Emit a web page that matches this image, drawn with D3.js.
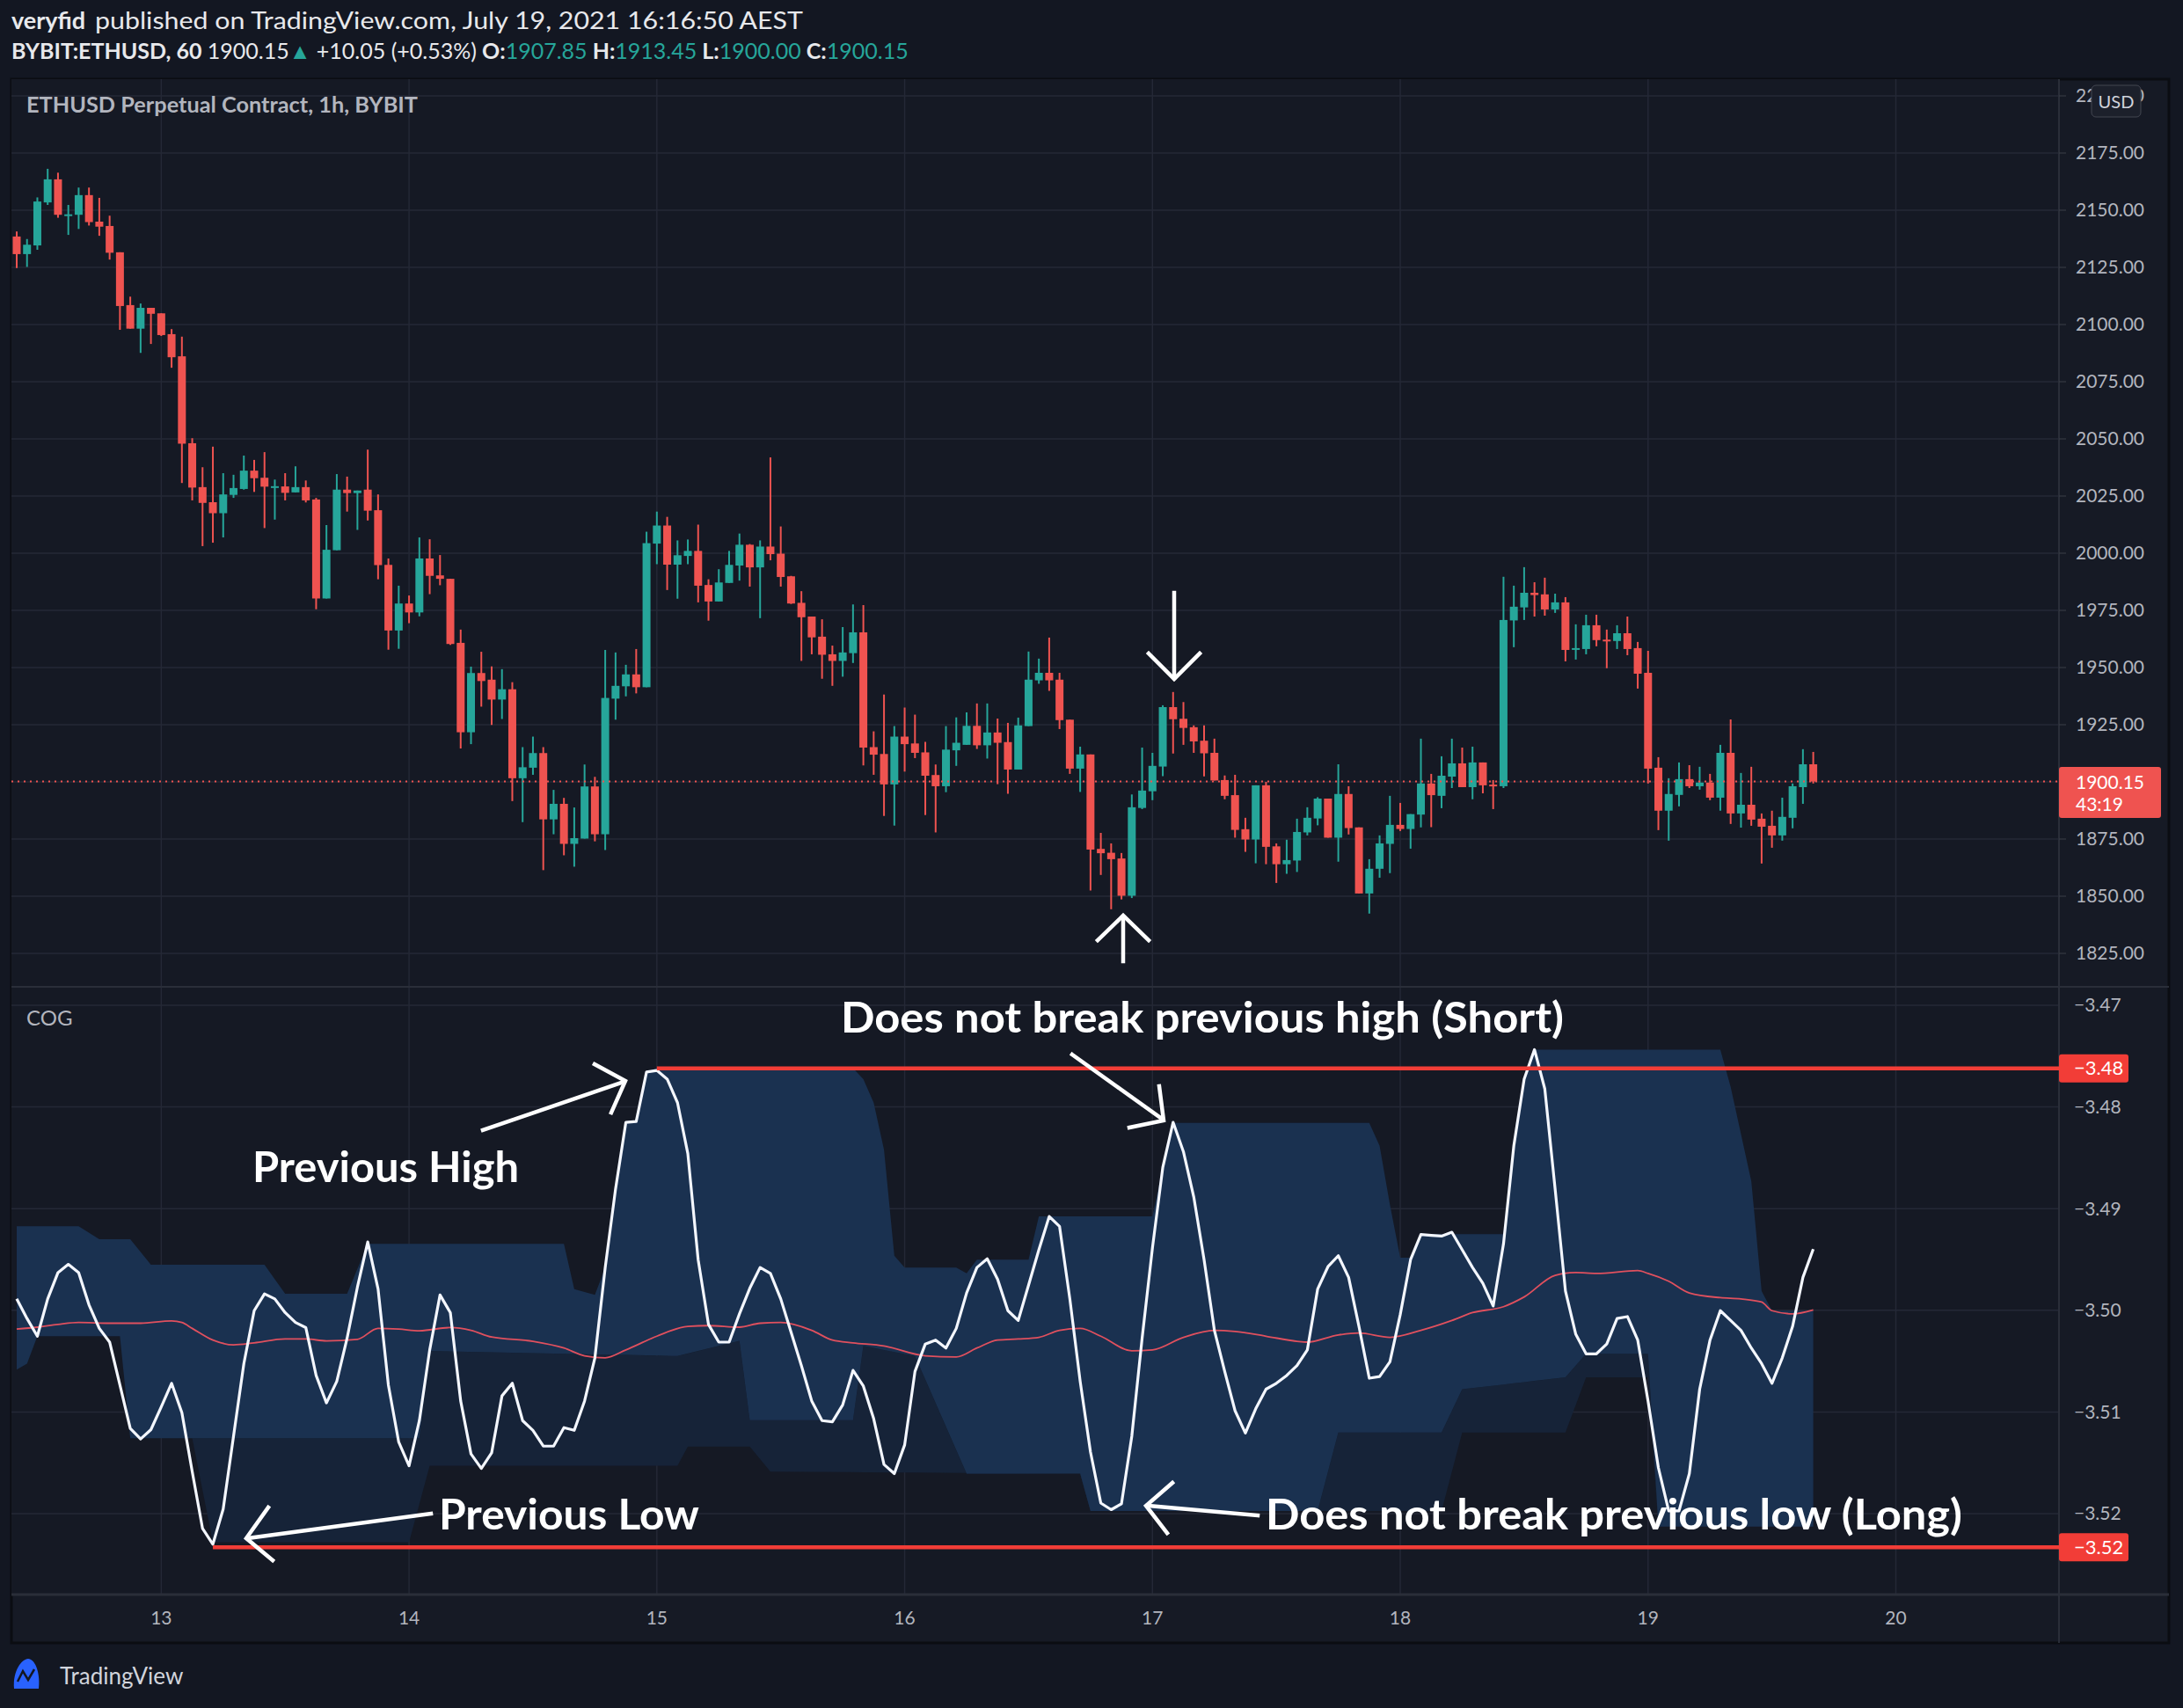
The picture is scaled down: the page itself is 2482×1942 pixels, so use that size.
<!DOCTYPE html>
<html><head><meta charset="utf-8">
<script src="https://cdn.jsdelivr.net/npm/d3@7/dist/d3.min.js"></script>
<style>html,body{margin:0;padding:0;background:#131722;}svg{display:block;}</style>
</head><body>
<script>
// ---------- DATA ----------
// hourly candles starting Jul 12 2021 10:00 (hour index 10 from Jul 12 00:00)
const firstHour = 10;
const opens  = [2138.5,2130.8,2134.6,2153.4,2163.5,2148.0,2148.0,2156.6,2145.0,2143.1,2131.6,2108.5,2098.2,2107.3,2104.9,2095.8,2086.1,2048.1,2028.9,2022.3,2017.5,2025.5,2028.1,2036.1,2033.0,2029.1,2029.2,2026.6,2028.9,2023.5,1980.2,2001.3,2027.8,2026.3,2027.8,2018.8,1994.9,1966.2,1978.0,1974.1,1997.7,1990.3,1988.8,1960.8,1921.7,1947.6,1944.7,1936.0,1940.5,1901.6,1906.2,1912.6,1883.6,1890.4,1872.9,1875.2,1898.0,1877.1,1936.4,1941.8,1947.0,1941.4,2004.2,2012.1,1995.0,1998.8,2001.0,1986.1,1978.9,1987.0,1994.6,2003.7,1993.8,2002.9,1999.8,1989.9,1978.3,1972.3,1963.5,1955.8,1952.9,1956.3,1965.4,1915.2,1912.2,1898.9,1919.8,1916.8,1912.9,1903.0,1898.1,1913.8,1916.2,1924.5,1916.0,1921.6,1917.4,1905.4,1924.4,1944.4,1947.7,1944.7,1927.2,1905.8,1912.0,1870.7,1869.0,1866.5,1850.2,1888.6,1895.9,1906.7,1932.7,1927.6,1923.9,1918.0,1912.7,1900.8,1894.2,1879.3,1874.8,1898.5,1871.8,1864.0,1865.6,1877.9,1884.0,1892.7,1875.6,1894.7,1880.1,1851.2,1862.0,1872.9,1881.2,1879.4,1885.7,1899.3,1893.9,1902.3,1908.1,1897.7,1908.5,1898.8,1898.1,1970.6,1976.3,1982.7,1982.0,1975.4,1978.5,1958.1,1958.1,1968.5,1962.2,1961.6,1965.0,1958.5,1947.7,1906.2,1887.4,1894.3,1901.2,1898.1,1899.7,1893.1,1912.7,1886.2,1890.0,1883.9,1880.8,1876.6,1884.3,1897.7,1907.7];
const highs  = [2140.7,2137.4,2155.6,2168.1,2166.4,2152.3,2159.9,2159.9,2155.4,2147.6,2131.6,2112.2,2109.2,2107.3,2104.9,2098.0,2094.7,2050.3,2037.6,2046.6,2035.0,2034.3,2042.7,2040.8,2044.2,2032.2,2035.0,2038.0,2031.8,2024.2,2012.3,2034.6,2033.5,2027.4,2045.3,2025.7,1997.7,1985.8,1981.5,2006.9,2006.1,1999.2,1988.8,1966.6,1950.4,1956.9,1950.5,1949.3,1943.6,1915.2,1919.8,1915.2,1896.5,1893.0,1888.8,1907.6,1902.2,1957.7,1956.6,1951.2,1958.1,2009.4,2018.2,2015.9,2005.6,2006.0,2012.5,1988.6,1993.0,2001.0,2008.6,2004.0,2005.6,2041.9,2011.7,1990.1,1983.4,1972.3,1971.1,1959.6,1967.7,1977.6,1977.3,1922.1,1938.2,1924.4,1932.5,1929.4,1917.5,1907.6,1924.4,1928.2,1930.4,1934.3,1934.3,1927.7,1925.8,1928.1,1957.0,1953.9,1963.1,1947.7,1927.2,1915.4,1912.0,1877.7,1873.1,1868.9,1894.5,1915.0,1912.7,1933.5,1939.3,1934.9,1924.7,1924.7,1918.9,1902.8,1903.1,1884.3,1898.5,1900.0,1873.1,1874.7,1883.9,1888.9,1893.3,1892.7,1907.7,1898.1,1880.1,1866.2,1876.6,1893.9,1890.8,1885.9,1918.9,1903.5,1911.2,1918.9,1915.0,1915.4,1908.5,1900.8,1989.7,1985.8,1993.9,1987.3,1989.3,1982.3,1980.8,1968.9,1973.1,1973.1,1966.6,1968.5,1972.3,1961.2,1957.3,1910.8,1901.6,1908.5,1907.3,1906.6,1903.5,1916.2,1927.3,1903.9,1906.6,1886.2,1887.4,1893.1,1899.3,1914.3,1913.1];
const lows   = [2124.7,2125.2,2132.7,2152.3,2146.7,2139.2,2141.8,2143.3,2138.8,2128.4,2097.7,2098.2,2087.6,2091.5,2095.0,2081.1,2030.7,2023.1,2003.1,2004.6,2006.9,2024.2,2027.8,2026.8,2011.0,2014.7,2023.1,2026.6,2022.2,1975.5,1980.2,2001.3,2018.2,2010.2,2014.3,1988.6,1957.8,1958.2,1969.4,1972.4,1982.1,1986.0,1959.9,1914.6,1916.5,1932.9,1924.9,1927.5,1891.6,1882.4,1903.1,1861.4,1877.1,1867.9,1862.9,1875.2,1874.0,1870.2,1927.2,1937.4,1938.7,1941.4,1995.2,1983.9,1980.1,1995.2,1978.5,1970.5,1978.9,1987.0,1988.0,1985.4,1971.6,1996.9,1985.4,1977.8,1952.9,1955.8,1945.1,1942.0,1946.0,1952.0,1907.2,1903.1,1885.1,1880.9,1904.5,1910.4,1885.5,1877.9,1895.5,1907.0,1916.2,1914.4,1910.2,1899.0,1894.8,1905.4,1924.4,1942.9,1939.8,1923.1,1903.5,1895.6,1852.5,1859.3,1844.3,1848.6,1849.2,1888.1,1892.0,1902.5,1912.4,1916.2,1912.7,1902.4,1900.6,1892.4,1875.6,1869.4,1864.4,1864.0,1855.8,1859.8,1860.6,1876.6,1881.0,1875.6,1865.1,1877.0,1851.2,1842.4,1858.1,1860.1,1878.5,1870.8,1880.1,1880.2,1888.5,1897.3,1897.7,1892.4,1895.0,1888.1,1897.3,1958.9,1970.8,1972.3,1972.7,1973.9,1952.7,1953.5,1955.8,1959.3,1949.7,1958.1,1955.4,1940.8,1899.3,1878.9,1874.3,1889.3,1897.3,1896.6,1892.0,1887.4,1881.6,1880.0,1880.8,1864.3,1871.2,1874.3,1879.7,1890.4,1899.3];
const closes = [2130.8,2134.9,2153.8,2163.5,2148.0,2148.2,2156.6,2144.8,2142.8,2131.4,2108.1,2098.2,2107.3,2104.7,2095.4,2085.7,2047.9,2028.7,2022.0,2017.5,2025.7,2028.5,2036.1,2032.8,2029.1,2029.3,2026.4,2028.9,2023.1,1980.2,2001.5,2027.8,2026.3,2027.4,2018.6,1994.8,1966.2,1978.0,1974.1,1997.7,1990.1,1988.8,1960.3,1921.7,1947.6,1944.1,1936.0,1940.5,1901.6,1906.4,1912.6,1883.6,1890.4,1872.9,1875.4,1898.0,1877.1,1936.7,1942.0,1947.0,1941.4,2004.4,2012.1,1995.0,1999.1,2001.0,1985.8,1978.9,1987.2,1994.9,2003.7,1993.8,2002.9,1999.6,1989.6,1978.0,1972.0,1963.2,1955.6,1952.9,1956.6,1965.4,1915.0,1911.9,1898.9,1919.8,1916.5,1912.7,1902.7,1898.1,1914.1,1917.1,1924.5,1916.0,1921.6,1917.1,1905.4,1924.7,1944.7,1947.7,1944.4,1927.0,1905.8,1912.0,1870.4,1868.8,1866.2,1850.2,1888.9,1896.2,1907.0,1932.7,1927.4,1923.6,1917.7,1912.5,1900.6,1893.9,1879.0,1874.8,1898.5,1871.6,1864.0,1865.8,1878.1,1884.3,1892.7,1875.6,1894.7,1879.8,1851.2,1862.0,1873.1,1881.2,1879.4,1885.9,1899.3,1894.2,1902.7,1908.1,1897.7,1908.5,1898.5,1898.5,1970.8,1976.6,1982.7,1981.7,1975.4,1978.5,1957.7,1958.5,1968.5,1962.0,1961.8,1965.0,1958.1,1947.3,1905.8,1887.4,1894.7,1901.2,1898.1,1899.7,1893.1,1912.7,1886.2,1890.0,1883.5,1880.4,1876.6,1884.7,1898.1,1907.7,1900.15];

// COG indicator (one value per candle)
const cog = [-3.49888,-3.50081,-3.50255,-3.49888,-3.49629,-3.49548,-3.49629,-3.49946,-3.50178,-3.50313,-3.50737,-3.51162,-3.51266,-3.51174,-3.50950,-3.50718,-3.51008,-3.51587,-3.52147,-3.52301,-3.51954,-3.51239,-3.50525,-3.50004,-3.49838,-3.49888,-3.50023,-3.50120,-3.50170,-3.50641,-3.50911,-3.50699,-3.50274,-3.49772,-3.49328,-3.49791,-3.50737,-3.51297,-3.51529,-3.51085,-3.50390,-3.49849,-3.50023,-3.50892,-3.51413,-3.51556,-3.51402,-3.50842,-3.50718,-3.51085,-3.51181,-3.51336,-3.51336,-3.51154,-3.51181,-3.50892,-3.50467,-3.49579,-3.48807,-3.48151,-3.48143,-3.47656,-3.47641,-3.47726,-3.47958,-3.48459,-3.49502,-3.50139,-3.50313,-3.50313,-3.50035,-3.49784,-3.49579,-3.49637,-3.49888,-3.50216,-3.50544,-3.50892,-3.51085,-3.51097,-3.50930,-3.50591,-3.50745,-3.51066,-3.51517,-3.51606,-3.51324,-3.50602,-3.50332,-3.50293,-3.50371,-3.50178,-3.49830,-3.49579,-3.49494,-3.49695,-3.50004,-3.50100,-3.49753,-3.49405,-3.49077,-3.49174,-3.49888,-3.50699,-3.51394,-3.51896,-3.51961,-3.51903,-3.51239,-3.50274,-3.49386,-3.48595,-3.48151,-3.48440,-3.48884,-3.49502,-3.50197,-3.50602,-3.50988,-3.51208,-3.50969,-3.50776,-3.50718,-3.50641,-3.50544,-3.50390,-3.49791,-3.49571,-3.49463,-3.49676,-3.50158,-3.50668,-3.50652,-3.50506,-3.50042,-3.49502,-3.49255,-3.49263,-3.49270,-3.49232,-3.49405,-3.49579,-3.49734,-3.49958,-3.49347,-3.48382,-3.47726,-3.47436,-3.47822,-3.48807,-3.49811,-3.50236,-3.50428,-3.50428,-3.50332,-3.50081,-3.50062,-3.50293,-3.50892,-3.51548,-3.51973,-3.51973,-3.51606,-3.50776,-3.50293,-3.50004,-3.50100,-3.50197,-3.50371,-3.50525,-3.50718,-3.50467,-3.50158,-3.49676,-3.49398];
// signal line, sampled at candle numbers (1-based)
const sigBar = [1,3,5,7,10,13,16,17,18,20,22,24,27,29,31,34,36,38,40,43,45,47,51,54,56,58,60,63,66,68,71,73,75,78,80,82,85,89,92,94,96,98,100,102,104,106,109,111,114,117,119,122,125,126,129,131,134,137,140,142,145,147,150,152,154,158,159,161,163,166,168,170,171,173,175];
const sigVal = [-3.50185,-3.50166,-3.50139,-3.50120,-3.50127,-3.50127,-3.50104,-3.50120,-3.50178,-3.50293,-3.50340,-3.50320,-3.50282,-3.50282,-3.50301,-3.50286,-3.50178,-3.50185,-3.50201,-3.50170,-3.50197,-3.50263,-3.50305,-3.50371,-3.50448,-3.50467,-3.50390,-3.50255,-3.50158,-3.50151,-3.50166,-3.50127,-3.50120,-3.50197,-3.50293,-3.50320,-3.50351,-3.50448,-3.50459,-3.50371,-3.50293,-3.50282,-3.50266,-3.50197,-3.50178,-3.50255,-3.50398,-3.50390,-3.50266,-3.50197,-3.50208,-3.50255,-3.50305,-3.50313,-3.50243,-3.50224,-3.50266,-3.50197,-3.50100,-3.50023,-3.49965,-3.49869,-3.49656,-3.49629,-3.49637,-3.49610,-3.49637,-3.49714,-3.49830,-3.49876,-3.49888,-3.49919,-3.50004,-3.50035,-3.49996];
// channel breakpoints [candle number, value]
const bandUpper = [[1,-3.49174],[7,-3.49174],[9,-3.49301],[12,-3.49301],[14,-3.49552],[25,-3.49552],[27,-3.49838],[33,-3.49838],[35,-3.49347],[54,-3.49347],[55,-3.49791],[57,-3.49849],[58,-3.49579],[59,-3.48807],[60,-3.48151],[61,-3.48143],[62,-3.47656],[63,-3.47618],[82,-3.47618],[83,-3.47726],[84,-3.47958],[85,-3.48421],[86,-3.49463],[87,-3.49579],[92,-3.49579],[93,-3.49637],[94,-3.49502],[99,-3.49502],[100,-3.49077],[111,-3.49077],[112,-3.48595],[113,-3.48158],[132,-3.48158],[133,-3.48382],[134,-3.48961],[135,-3.49483],[136,-3.49483],[137,-3.49251],[145,-3.49251],[146,-3.48382],[147,-3.47726],[148,-3.47436],[166,-3.47436],[167,-3.47803],[169,-3.48730],[170,-3.49811],[171,-3.50004],[175,-3.50004]];
const bandLower = [[1,-3.50583],[2,-3.50525],[3,-3.50255],[11,-3.50255],[12,-3.51259],[40,-3.51259],[41,-3.50400],[65,-3.50450],[71,-3.50300],[72,-3.51080],[82,-3.51080],[83,-3.50350],[88,-3.50450],[93,-3.51606],[104,-3.51606],[105,-3.51973],[127,-3.51973],[129,-3.51201],[139,-3.51201],[141,-3.50776],[151,-3.50660],[153,-3.50428],[159,-3.50428],[160,-3.52127],[175,-3.52127]];
const bandLower2 = [[1,-3.50583],[2,-3.50525],[3,-3.50255],[11,-3.50255],[12,-3.51259],[18,-3.51259],[20,-3.52282],[39,-3.52282],[41,-3.51529],[65,-3.51529],[66,-3.51340],[72,-3.51340],[74,-3.51587],[104,-3.51606],[106,-3.51973],[139,-3.51973],[141,-3.51201],[151,-3.51201],[153,-3.50660],[159,-3.50660],[160,-3.52127],[175,-3.52127]];
const prevHigh = -3.4762, prevLow = -3.5233, prevHighBar = 63, prevLowBar = 20;

const priceTicks = [1825,1850,1875,1900,1925,1950,1975,2000,2025,2050,2075,2100,2125,2150,2175,2200];
const cogTicks = [-3.47,-3.48,-3.49,-3.50,-3.51,-3.52];
const dayTicks = [13,14,15,16,17,18,19,20];
const lastPrice = 1900.15, countdown = "43:19";

// ---------- LAYOUT ----------
const W = 2482, H = 1942;
const L = 13, R = 2341, AX_R = 2466;
const P1 = [90, 1122], P2 = [1122, 1813];
const UP = "#26a69a", DN = "#ef5350", GRID = "#242836", TXT = "#b2b5be", RED = "#f23d37";

const svg = d3.select("body").append("svg").attr("width", W).attr("height", H)
  .style("font-family", "Lato, 'Open Sans', sans-serif");
svg.append("rect").attr("width", W).attr("height", H).attr("fill", "#131722");
svg.append("rect").attr("x", L).attr("y", P1[0]).attr("width", AX_R - L).attr("height", 1868 - P1[0])
  .attr("fill", "#161a25").attr("stroke", "#0b0d12").attr("stroke-width", 3);
svg.append("rect").attr("x", L).attr("y", P1[0]).attr("width", R - L).attr("height", P2[1] - P1[0]).attr("fill", "#151924");

const x = d3.scaleLinear().domain([9.49, 207.8]).range([L, R]);
const hourOf = n => firstHour + n - 1; // n = candle number, 1-based
const yP = d3.scaleLinear().domain([1825, 2175]).range([1084, 174]);
const yC = d3.scaleLinear().domain([-3.47, -3.52]).range([1143, 1721]);

const g = svg.append("g");
g.selectAll(".vg").data(dayTicks).join("line").attr("x1", d => x(24 * (d - 12))).attr("x2", d => x(24 * (d - 12)))
  .attr("y1", P1[0]).attr("y2", P2[1]).attr("stroke", GRID).attr("stroke-width", 1.5);
g.selectAll(".hg").data(priceTicks.filter(d => yP(d) > P1[0])).join("line").attr("x1", L).attr("x2", R)
  .attr("y1", d => yP(d)).attr("y2", d => yP(d)).attr("stroke", GRID).attr("stroke-width", 1.5);
g.selectAll(".hg2").data(cogTicks).join("line").attr("x1", L).attr("x2", R)
  .attr("y1", d => yC(d)).attr("y2", d => yC(d)).attr("stroke", GRID).attr("stroke-width", 1.5);

svg.append("line").attr("x1", L).attr("x2", AX_R).attr("y1", P1[1]).attr("y2", P1[1]).attr("stroke", "#2a2e39").attr("stroke-width", 2);
svg.append("line").attr("x1", L).attr("x2", AX_R).attr("y1", P2[1]).attr("y2", P2[1]).attr("stroke", "#2a2e39").attr("stroke-width", 3);
svg.append("line").attr("x1", R).attr("x2", R).attr("y1", P1[0]).attr("y2", 1868).attr("stroke", "#2a2e39").attr("stroke-width", 2);

// ---------- CANDLES ----------
const candles = opens.map((o, i) => ({ n: i + 1, o, h: highs[i], l: lows[i], c: closes[i] }));
const cg = svg.append("g");
cg.selectAll(".wick").data(candles).join("line")
  .attr("x1", d => x(hourOf(d.n))).attr("x2", d => x(hourOf(d.n)))
  .attr("y1", d => yP(d.h)).attr("y2", d => yP(d.l))
  .attr("stroke", d => d.c >= d.o ? UP : DN).attr("stroke-width", 2);
cg.selectAll(".body").data(candles).join("rect")
  .attr("x", d => x(hourOf(d.n)) - 4.5).attr("width", 9)
  .attr("y", d => yP(Math.max(d.o, d.c)))
  .attr("height", d => Math.max(2, Math.abs(yP(d.o) - yP(d.c))))
  .attr("fill", d => d.c >= d.o ? UP : DN);

svg.append("line").attr("x1", L).attr("x2", R).attr("y1", yP(lastPrice)).attr("y2", yP(lastPrice))
  .attr("stroke", DN).attr("stroke-width", 2).attr("stroke-dasharray", "2,5");

// ---------- COG PANE ----------
const bx = d => x(hourOf(d[0]));
const cp = svg.append("g");
function bandArea(top, bot, color) {
  const ns = Array.from(new Set([...top.map(d => d[0]), ...bot.map(d => d[0])])).sort((a, b) => a - b);
  const interp = (arr, n) => { for (let i = 0; i < arr.length - 1; i++) { if (n >= arr[i][0] && n <= arr[i + 1][0]) { const t = (n - arr[i][0]) / ((arr[i + 1][0] - arr[i][0]) || 1); return arr[i][1] + t * (arr[i + 1][1] - arr[i][1]); } } return arr[arr.length - 1][1]; };
  const pts = ns.map(n => ({ n, t: interp(top, n), b: interp(bot, n) }));
  cp.append("path").datum(pts).attr("fill", color)
    .attr("d", d3.area().x(d => x(hourOf(d.n))).y0(d => yC(d.b)).y1(d => yC(d.t)));
}
bandArea(bandLower, bandLower2, "#162338");
bandArea(bandUpper, bandLower, "#1a3150");

cp.append("path").datum(sigBar.map((b, i) => [b, sigVal[i]])).attr("fill", "none")
  .attr("stroke", "#e0505e").attr("stroke-width", 1.8)
  .attr("d", d3.line().x(bx).y(d => yC(d[1])).curve(d3.curveMonotoneX));
cp.append("path").datum(cog.map((v, i) => [i + 1, v])).attr("fill", "none")
  .attr("stroke", "#f4f7ff").attr("stroke-width", 3.2).attr("stroke-linejoin", "round")
  .attr("d", d3.line().x(bx).y(d => yC(d[1])));

cp.append("line").attr("x1", x(hourOf(prevHighBar))).attr("x2", R).attr("y1", yC(prevHigh)).attr("y2", yC(prevHigh)).attr("stroke", RED).attr("stroke-width", 4.5);
cp.append("line").attr("x1", x(hourOf(prevLowBar))).attr("x2", R).attr("y1", yC(prevLow)).attr("y2", yC(prevLow)).attr("stroke", RED).attr("stroke-width", 4.5);

// ---------- AXES ----------
const fmtP = d3.format(".2f");
const ax = svg.append("g").attr("font-size", 21).attr("fill", TXT);
priceTicks.forEach(p => {
  ax.append("line").attr("x1", R).attr("x2", R + 8).attr("y1", yP(p)).attr("y2", yP(p)).attr("stroke", "#3a3e49");
  ax.append("text").attr("x", 2360).attr("y", yP(p)).attr("dy", "0.35em").text(fmtP(p));
});
cogTicks.forEach(v => {
  ax.append("text").attr("x", 2358).attr("y", yC(v)).attr("dy", "0.35em").text("\u2212" + Math.abs(v).toFixed(2));
});
dayTicks.forEach(d => {
  ax.append("text").attr("x", x(24 * (d - 12))).attr("y", 1840).attr("dy", "0.35em").attr("text-anchor", "middle").text(d);
});
svg.append("rect").attr("x", 2378).attr("y", 97).attr("width", 56).attr("height", 36).attr("rx", 5)
  .attr("fill", "#1c202b").attr("stroke", "#434651");
svg.append("text").attr("x", 2406).attr("y", 116).attr("dy", "0.35em").attr("text-anchor", "middle")
  .attr("font-size", 20).attr("fill", "#d1d4dc").text("USD");
svg.append("rect").attr("x", R).attr("y", 872).attr("width", 116).attr("height", 58).attr("rx", 3).attr("fill", DN);
svg.append("text").attr("x", 2360).attr("y", 890).attr("dy", "0.35em").attr("font-size", 21).attr("fill", "#fff").text(fmtP(lastPrice));
svg.append("text").attr("x", 2360).attr("y", 915).attr("dy", "0.35em").attr("font-size", 21).attr("fill", "#fff").text(countdown);
[[prevHigh, "\u22123.48"], [prevLow, "\u22123.52"]].forEach(([v, t]) => {
  svg.append("rect").attr("x", R).attr("y", yC(v) - 16).attr("width", 79).attr("height", 32).attr("rx", 3).attr("fill", RED);
  svg.append("text").attr("x", 2358).attr("y", yC(v)).attr("dy", "0.35em").attr("font-size", 22).attr("fill", "#fff").text(t);
});

// ---------- HEADER ----------
svg.append("text").attr("x", 13).attr("y", 33).attr("font-size", 27).attr("font-weight", 700).attr("fill", "#e8e9ec").text("veryfid");
svg.append("text").attr("x", 108).attr("y", 33).attr("font-size", 27).attr("fill", "#e8e9ec")
  .attr("textLength", 805).attr("lengthAdjust", "spacingAndGlyphs")
  .text("published on TradingView.com, July 19, 2021 16:16:50 AEST");
const h2 = svg.append("text").attr("x", 13).attr("y", 67).attr("font-size", 25).attr("fill", "#e8e9ec");
h2.append("tspan").attr("font-weight", 700).text("BYBIT:ETHUSD, 60");
h2.append("tspan").text(" 1900.15");
h2.append("tspan").attr("fill", UP).text("\u25B2");
h2.append("tspan").text(" +10.05 (+0.53%)");
[["O:", "1907.85"], ["H:", "1913.45"], ["L:", "1900.00"], ["C:", "1900.15"]].forEach(([k, v]) => {
  h2.append("tspan").attr("font-weight", 700).text(" " + k);
  h2.append("tspan").attr("fill", UP).text(v);
});
svg.append("text").attr("x", 30).attr("y", 128).attr("font-size", 24).attr("font-weight", 700).attr("fill", TXT)
  .attr("textLength", 445).attr("lengthAdjust", "spacingAndGlyphs").text("ETHUSD Perpetual Contract, 1h, BYBIT");
svg.append("text").attr("x", 30).attr("y", 1166).attr("font-size", 24).attr("fill", TXT).text("COG");

// ---------- ANNOTATIONS ----------
const an = svg.append("g").attr("stroke", "#fff").attr("stroke-width", 4.5).attr("fill", "none").attr("stroke-linecap", "square");
const seg = pts => an.append("polyline").attr("points", pts.map(p => p.join(",")).join(" "));
seg([[1335, 674], [1335, 770]]); seg([[1306, 743], [1335, 772], [1364, 743]]);
seg([[1277, 1093], [1277, 1043]]); seg([[1248, 1069], [1277, 1041], [1306, 1069]]);
seg([[549, 1285], [709, 1230]]); seg([[676, 1210], [711, 1229], [695, 1265]]);
seg([[490, 1721], [282, 1749]]); seg([[305, 1714], [280, 1749], [310, 1774]]);
seg([[1219, 1199], [1321, 1272]]); seg([[1284, 1282], [1323, 1274], [1318, 1235]]);
seg([[1430, 1723], [1305, 1712]]); seg([[1333, 1686], [1303, 1712], [1327, 1743]]);
const at = (t, x0, x1, yb) => svg.append("text").attr("x", x0).attr("y", yb).attr("font-size", 48).attr("font-weight", 700)
  .attr("fill", "#fff").attr("textLength", x1 - x0).attr("lengthAdjust", "spacingAndGlyphs").text(t);
at("Previous High", 287, 590, 1344);
at("Previous Low", 499, 795, 1739);
at("Does not break previous high (Short)", 956, 1778, 1174);
at("Does not break previous low (Long)", 1439, 2231, 1739);

// ---------- FOOTER ----------
const lg = svg.append("g").attr("transform", "translate(30,1906)");
lg.append("path").attr("d", "M-14,14 C-16,-6 -5,-20 2,-20 C9,-20 16,-6 14,14 Z").attr("fill", "#2962ff");
lg.append("path").attr("d", "M-10,6 L-4,-6 L2,4 L9,-8").attr("stroke", "#131722").attr("stroke-width", 2.5).attr("fill", "none");
svg.append("text").attr("x", 68).attr("y", 1906).attr("dy", "0.35em").attr("font-size", 26).attr("fill", "#d1d4dc").text("TradingView");
</script>
</body></html>
